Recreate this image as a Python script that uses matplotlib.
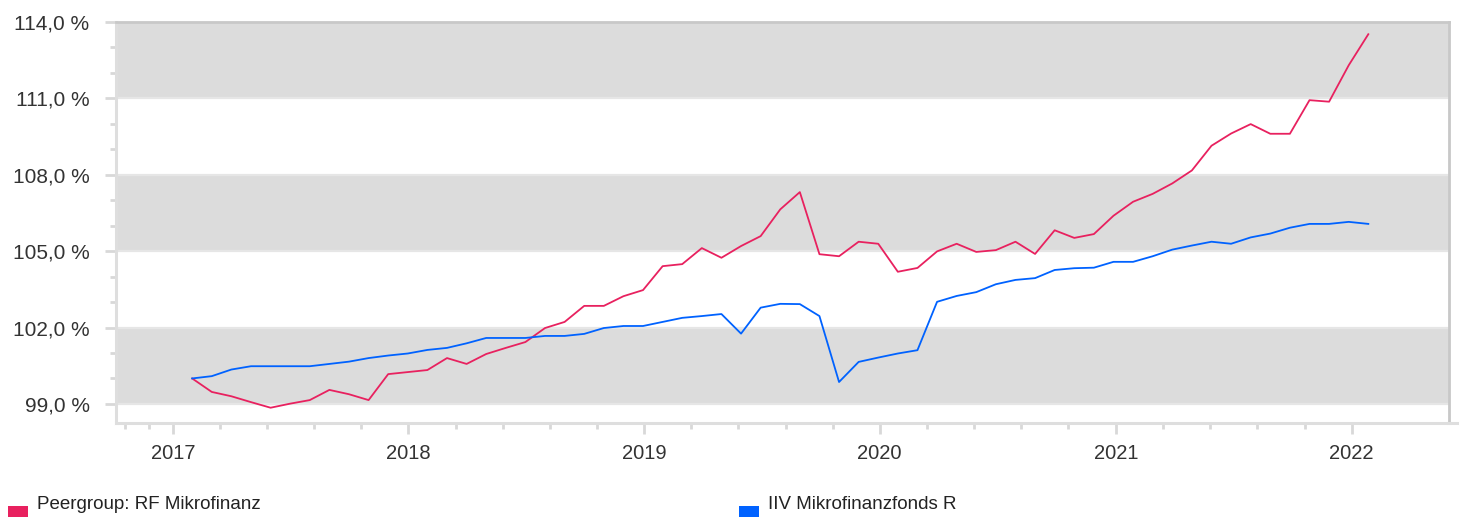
import matplotlib
matplotlib.use('Agg')
import matplotlib.pyplot as plt
import matplotlib.dates as mdates
from matplotlib.patches import Rectangle
from matplotlib.ticker import FixedLocator, FuncFormatter
import pandas as pd
from datetime import datetime

plt.rcParams['font.family'] = ['Liberation Sans', 'DejaVu Sans']

# Monthly index values, start = 100 %
dates = pd.date_range('2017-01-31', '2022-01-27', periods=61)

peergroup = [100.00, 99.47, 99.30, 99.07, 98.85, 99.01, 99.15, 99.55, 99.38, 99.15,
             100.17, 100.25, 100.33, 100.80, 100.57, 100.96, 101.20, 101.43, 101.98, 102.22,
             102.85, 102.85, 103.23, 103.47, 104.41, 104.49, 105.12, 104.74, 105.20, 105.59,
             106.64, 107.32, 104.88, 104.80, 105.37, 105.29, 104.19, 104.34, 104.99, 105.29,
             104.97, 105.04, 105.37, 104.89, 105.82, 105.52, 105.67, 106.39, 106.94, 107.25,
             107.66, 108.17, 109.14, 109.62, 109.99, 109.61, 109.61, 110.93, 110.87, 112.30,
             113.52]

fund = [100.00, 100.09, 100.35, 100.48, 100.48, 100.48, 100.48, 100.57, 100.66, 100.80,
        100.90, 100.98, 101.12, 101.20, 101.38, 101.59, 101.59, 101.59, 101.67, 101.67,
        101.75, 101.98, 102.06, 102.06, 102.22, 102.38, 102.45, 102.53, 101.76, 102.78,
        102.93, 102.92, 102.45, 99.86, 100.65, 100.82, 100.98, 101.11, 103.01, 103.24,
        103.39, 103.70, 103.87, 103.94, 104.26, 104.33, 104.35, 104.58, 104.58, 104.80,
        105.06, 105.22, 105.37, 105.29, 105.54, 105.69, 105.92, 106.07, 106.07, 106.15,
        106.07]

series_names = ['Peergroup: RF Mikrofinanz', 'IIV Mikrofinanzfonds R']
series_colors = ['#e8215f', '#0062ff']

years = [2017, 2018, 2019, 2020, 2021, 2022]
y_major = [99, 102, 105, 108, 111, 114]
y_minor = list(range(99, 115))

fig = plt.figure(figsize=(14.6, 5.17), dpi=100)
ax = fig.add_axes([116 / 1460, 94 / 517, 1333 / 1460, 401 / 517])

# alternating grey / white bands
for lo, hi in [(99, 102), (105, 108), (111, 114)]:
    ax.axhspan(lo, hi, color='#dcdcdc', lw=0, zorder=0)
for v in y_major:
    ax.axhline(v, color='#e6e6e6', lw=1.6, zorder=0.5)

ax.plot(dates, peergroup, color=series_colors[0], lw=1.3, zorder=3)
ax.plot(dates, fund, color=series_colors[1], lw=1.3, zorder=3)

ax.set_ylim(98.25, 114)
ax.set_xlim(datetime(2016, 10, 5), datetime(2022, 6, 1))

# y axis
ax.yaxis.set_major_locator(FixedLocator(y_major))
ax.yaxis.set_minor_locator(FixedLocator(y_minor))
ax.yaxis.set_major_formatter(FuncFormatter(lambda v, p: f'{v:.1f} %'.replace('.', ',')))

# x axis: years plus fifths of a year
def year_num(y, frac=0.0):
    return mdates.date2num(datetime(y, 1, 1)) + frac * 365.25

x_major = [year_num(y) for y in years]
x_minor = [year_num(2016, 0.8), year_num(2016, 0.9)]
for y in years[:-1]:
    x_minor += [year_num(y, k / 5) for k in range(1, 5)]
ax.xaxis.set_major_locator(FixedLocator(x_major))
ax.xaxis.set_minor_locator(FixedLocator(x_minor))
ax.set_xticklabels([str(y) for y in years])

ax.tick_params(axis='both', which='major', length=8, width=2, color='#d8d8d8',
               labelsize=14.5, labelcolor='#333333')
ax.tick_params(axis='both', which='minor', length=4, width=2, color='#d8d8d8')
ax.tick_params(axis='y', which='major', pad=11, labelsize=15)
ax.tick_params(axis='x', which='major', pad=7)

for side in ['left', 'bottom']:
    ax.spines[side].set_color('#dedede')
    ax.spines[side].set_linewidth(2.2)
for side in ['top', 'right']:
    ax.spines[side].set_color('#c8c8c8')
    ax.spines[side].set_linewidth(2)
ax.plot([1, 1.006], [0, 0], transform=ax.transAxes, color='#dedede', lw=2.2,
        clip_on=False, zorder=5)

# legend along the bottom edge
legend_x = [8, 739]
for name, color, lx in zip(series_names, series_colors, legend_x):
    fig.patches.append(Rectangle((lx / 1460, 0), 20 / 1460, 11 / 517,
                                 transform=fig.transFigure, color=color, lw=0))
    fig.text((lx + 29) / 1460, 8 / 517, name, fontsize=13.5, color='#222222',
             va='baseline', ha='left')

fig.savefig('out.png', dpi=100)
